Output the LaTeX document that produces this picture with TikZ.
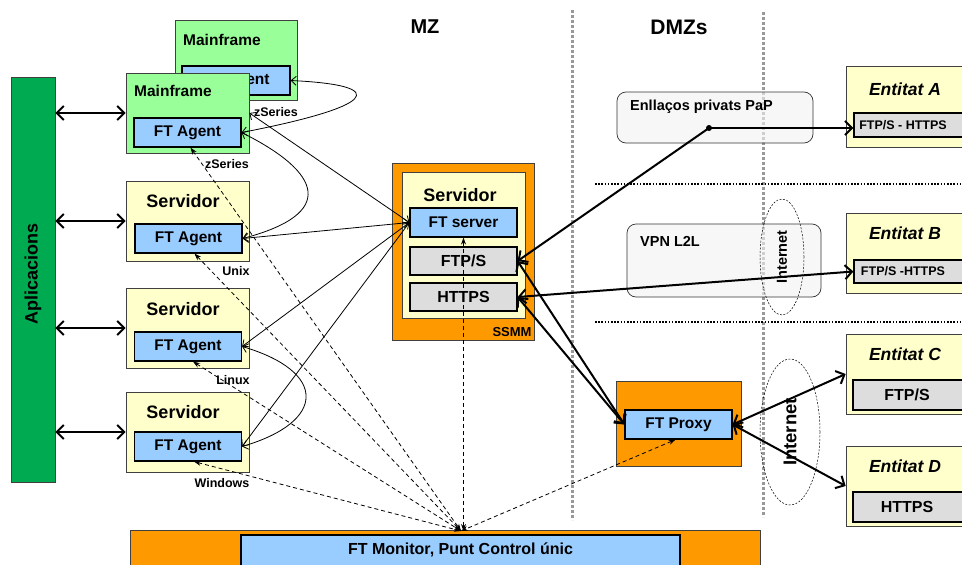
\documentclass[tikz,border=0pt]{standalone}
\usepackage{fontspec}
\setmainfont{Liberation Sans}
\usetikzlibrary{arrows.meta}
\definecolor{lgreen}{HTML}{99FF99}
\definecolor{lyellow}{HTML}{FFFFCC}
\definecolor{lblue}{HTML}{99CCFF}
\definecolor{lgray}{HTML}{DDDDDD}
\definecolor{orng}{HTML}{FF9900}
\definecolor{appgreen}{HTML}{00AA50}
\definecolor{pale}{HTML}{F2F2F2}
\definecolor{zonegray}{HTML}{999999}
\newcommand\fsb[1]{\fontsize{#1}{#1}\selectfont\bfseries}
\begin{document}
\begin{tikzpicture}[x=1pt,y=-1pt,
  box/.style={draw=black!75, line width=0.7pt, inner sep=0pt},
  agent/.style={draw=black, line width=1.2pt, fill=lblue, minimum width=107pt, minimum height=29pt, inner sep=0pt, font=\fsb{15.5}},
  proto/.style={draw=black, line width=1.2pt, fill=lgray, minimum width=107pt, minimum height=28pt, inner sep=0pt, font=\fsb{16}},
  machine/.style={box, minimum width=123pt, minimum height=80pt},
  entity/.style={box, fill=lyellow, minimum width=120pt, minimum height=80pt},
  enttitle/.style={font=\fsb{17.5}\itshape, inner sep=0pt},
  title/.style={font=\fsb{18}, inner sep=0pt},
  lbl/.style={font=\fsb{12.5}, inner sep=0pt},
  rbox/.style={draw=black!80, line width=0.7pt, fill=pale, fill opacity=0.6, rounded corners=9pt, inner sep=0pt},
  zone/.style={draw=zonegray, line width=3pt, dash pattern=on 3pt off 2pt},
  sep/.style={draw=black, line width=1.6pt, dash pattern=on 1.6pt off 1.6pt},
  netell/.style={draw=black, line width=0.5pt, dash pattern=on 2pt off 1.5pt},
  thinarr/.style={line width=0.8pt, {Straight Barb[length=5pt,width=9pt]}-{Straight Barb[length=5pt,width=9pt]}},
  thickarr/.style={line width=2pt, {Straight Barb[length=7pt,width=14pt]}-{Straight Barb[length=7pt,width=14pt]}},
  thickone/.style={line width=2pt, -{Straight Barb[length=7pt,width=14pt]}},
  dasharr/.style={line width=0.8pt, dash pattern=on 4pt off 3pt, {Stealth[length=7pt,width=5pt]}-{Stealth[length=7pt,width=5pt]}}
]
\useasboundingbox (0,0) rectangle (962,565);

% zone separators
\draw[zone] (572,10) -- (572,520);
\draw[zone] (763,12) -- (763,517);
\draw[sep] (595,184) -- (962,184);
\draw[sep] (595,322) -- (962,322);

% zone labels
\node[font=\fsb{20}] (mz) at (425,27) {MZ};
\node[font=\fsb{21}] (dmz) at (679,27) {DMZs};

% Aplicacions
\node[box, fill=appgreen, minimum width=44pt, minimum height=405pt] (apps) at (33,279.5) {};
\node[rotate=90, font=\fsb{18}] (appstxt) at (33,274) {Aplicacions};

% Mainframes
\node[machine, fill=lgreen, minimum width=122pt] (mfb) at (236,60) {};
\node[font=\fsb{15.5}, anchor=west, inner sep=0pt] (mfbt) at (183,40) {Mainframe};
\node[agent, minimum width=108pt] (agb) at (236,80.5) {FT Agent};
\node[machine, fill=lgreen] (mff) at (187.5,113) {};
\node[font=\fsb{15.5}, anchor=west, inner sep=0pt] (mfft) at (134,91) {Mainframe};
\node[agent] (agf) at (187.5,132.5) {FT Agent};
\node[lbl] (zs1) at (276,112) {zSeries};
\node[lbl] (zs2) at (227,164) {zSeries};

% Servers
\node[machine, fill=lyellow] (srvU) at (187.5,221) {};
\node[title] (srvUt) at (183,201) {Servidor};
\node[agent] (agU) at (188.5,238.5) {FT Agent};
\node[lbl] (lU) at (236,271) {Unix};

\node[machine, fill=lyellow] (srvL) at (187.5,328) {};
\node[title] (srvLt) at (183,309) {Servidor};
\node[agent] (agL) at (188,346.5) {FT Agent};
\node[lbl] (lL) at (233,380) {Linux};

\node[machine, fill=lyellow] (srvW) at (187.5,432) {};
\node[title] (srvWt) at (183,412) {Servidor};
\node[agent] (agW) at (188,446.5) {FT Agent};
\node[lbl] (lW) at (222,483) {Windows};

% SSMM
\node[box, fill=orng, minimum width=142pt, minimum height=177pt] (ssmm) at (463,251.5) {};
\node[box, fill=lyellow, minimum width=123pt, minimum height=146pt] (srvS) at (463.5,245) {};
\node[title] (srvSt) at (460,195) {Servidor};
\node[agent] (fts) at (463.5,222.5) {FT server};
\node[proto] (ftps) at (463.5,261) {FTP/S};
\node[proto] (https) at (463.5,297) {HTTPS};
\node[font=\fsb{13}, inner sep=0pt] (ssmmt) at (512,332) {SSMM};

% DMZ boxes
\node[rbox, minimum width=196pt, minimum height=51pt] (pap) at (715,117.5) {};
\node[font=\fsb{14.5}, anchor=west, inner sep=0pt] (papt) at (630,107) {Enllaços privats PaP};
\node[circle, fill=black, inner sep=0pt, minimum size=6pt] (dot) at (709,128) {};
\node[rbox, minimum width=194pt, minimum height=73pt] (vpn) at (724,260.5) {};
\node[font=\fsb{14.5}, anchor=west, inner sep=0pt] (vpnt) at (640,241) {VPN L2L};
\draw[netell] (782,257) ellipse [x radius=22pt, y radius=58pt];
\node[rotate=90, font=\fsb{14.5}, inner sep=0pt] (net1) at (782,257) {Internet};

\node[box, fill=orng, minimum width=125pt, minimum height=85pt] (pxo) at (678.5,423.5) {};
\node[agent] (px) at (678.5,424.5) {FT Proxy};

\draw[netell] (790,432) ellipse [x radius=30pt, y radius=73pt];
\node[rotate=90, font=\fsb{18.5}, inner sep=0pt] (net2) at (790,432) {Internet};

% Entities
\node[entity, minimum height=81pt] (entA) at (906,106.5) {};
\node[enttitle] (entAt) at (905,89) {Entitat A};
\node[box, draw=black, line width=1.2pt, fill=lgray, minimum width=112pt, minimum height=24pt] (gA) at (910,125) {};
\node[lbl] (gAt) at (903,125) {FTP/S - HTTPS};

\node[entity] (entB) at (906,253) {};
\node[enttitle] (entBt) at (905,233) {Entitat B};
\node[box, draw=black, line width=1.2pt, fill=lgray, minimum width=112pt, minimum height=23pt] (gB) at (910,271.5) {};
\node[lbl] (gBt) at (903,271.5) {FTP/S -HTTPS};

\node[entity] (entC) at (906,374) {};
\node[enttitle] (entCt) at (905,354) {Entitat C};
\node[box, draw=black, line width=1.2pt, fill=lgray, minimum width=112pt, minimum height=30pt] (gC) at (909,395) {};
\node[font=\fsb{16}, inner sep=0pt] (gCt) at (907,395) {FTP/S};

\node[entity] (entD) at (906,486) {};
\node[enttitle] (entDt) at (905,466) {Entitat D};
\node[box, draw=black, line width=1.2pt, fill=lgray, minimum width=112pt, minimum height=30pt] (gD) at (909,507) {};
\node[font=\fsb{16}, inner sep=0pt] (gDt) at (907,507) {HTTPS};

% Monitor
\node[box, fill=orng, minimum width=630pt, minimum height=60pt] (mono) at (445,560) {};
\node[agent, minimum width=439pt, minimum height=50pt] (mon) at (460.5,560) {};
\node[font=\fsb{16}, inner sep=0pt] (mont) at (460.5,550) {FT Monitor, Punt Control únic};
\coordinate (M) at (461,531);

% Apps links
\draw[thickarr] (apps.east |- mff.west) -- (mff.west);
\draw[thickarr] (apps.east |- srvU.west) -- (srvU.west);
\draw[thickarr] (apps.east |- srvL.west) -- (srvL.west);
\draw[thickarr] (apps.east |- srvW.west) -- (srvW.west);

% FT server links
\draw[thinarr] (fts.west) -- (mff.east);
\draw[thinarr] (agb.east) .. controls +(105,5) and +(130,-25) .. (agf.east);
\draw[thinarr] (agf.east) .. controls +(80,40) and +(95,-25) .. (agU.east);
\draw[thinarr] (agU.east) -- (fts.west);
\draw[thinarr] (agL.east) -- (fts.west);
\draw[thinarr] (agW.east) -- (fts.west);
\draw[thinarr] (agL.east) .. controls +(85,25) and +(85,-25) .. (agW.east);

% monitoring
\draw[dasharr] ([xshift=3pt]agf.south) -- (M);
\draw[dasharr] ([xshift=6pt]agU.south) -- (M);
\draw[dasharr] ([xshift=5pt]agL.south) -- (M);
\draw[dasharr] ([xshift=6pt]agW.south) -- (M);
\draw[dasharr] (fts.south) -- (fts.south |- M);
\draw[dasharr] ([xshift=-3pt]px.south) -- (M);

% external links
\draw[thickone] (dot.center) -- (ftps.east);
\draw[thickone] (dot.center) -- (dot.center -| gA.west);
\draw[thickarr] (https.east) -- (gB.west);
\draw[thickarr] (ftps.east) -- (px.west);
\draw[thickarr] (https.east) -- (px.west);
\draw[thickarr] (px.east) -- (entC.west);
\draw[thickarr] (px.east) -- (entD.west);
\end{tikzpicture}
\end{document}
